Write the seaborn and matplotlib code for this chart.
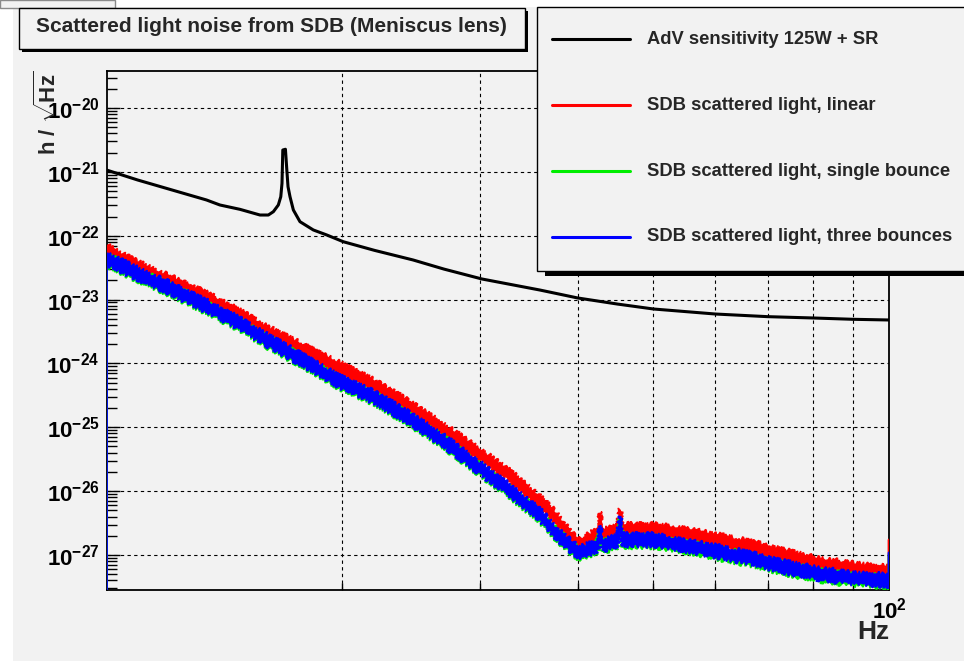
import numpy as np
import pandas as pd
import matplotlib
matplotlib.use("Agg")
import matplotlib.pyplot as plt
import seaborn as sns
from matplotlib.patches import Rectangle
from matplotlib.lines import Line2D
from matplotlib.ticker import FixedLocator, FuncFormatter, NullFormatter, LogLocator

# ---------------------------------------------------------------- data
# AdV design sensitivity, 125 W input power with signal recycling
adv_freq = [10.0, 10.96, 12.13, 13.42, 13.96, 14.81, 15.71, 16.10, 16.34, 16.58,
            16.70, 16.76, 16.80, 16.93, 17.00, 17.06, 17.16, 17.33, 17.67, 18.38,
            19.11, 20.07, 22.0, 24.65, 27.0, 30.19, 35.81, 40.0, 45.0, 50.0,
            60.0, 70.0, 80.0, 90.0, 100.0]
adv_h = [1.07e-21, 7.46e-22, 5.2e-22, 3.63e-22, 3.03e-22, 2.59e-22, 2.11e-22, 2.11e-22, 2.38e-22, 3.03e-22,
         4.08e-22, 6.62e-22, 2.20e-21, 2.26e-21, 1.07e-21, 5.86e-22, 4.08e-22, 2.53e-22, 1.66e-22, 1.23e-22,
         1.03e-22, 8.06e-23, 5.9e-23, 4.17e-23, 3.0e-23, 2.10e-23, 1.41e-23, 1.06e-23, 8.5e-24, 7.12e-24,
         5.94e-24, 5.40e-24, 5.15e-24, 4.91e-24, 4.79e-24]

# SDB scattered-light projections (first bin empty, last bin spikes)
sdb_freq = [10.0, 10.0, 10.82, 11.94, 13.16, 14.52, 16.02, 17.67, 19.88, 21.93,
            24.19, 26.69, 29.43, 32.47, 35.81, 37.61, 39.50, 40.29, 41.89, 42.4,
            42.72, 43.1, 44.0, 45.0, 45.32, 45.7, 47.12, 50.0, 54.6, 60.24,
            66.43, 73.27, 80.84, 89.18, 98.33, 100.0, 100.0]
sdb_linear = [1e-30, 5.97e-23, 3.48e-23, 2.03e-23, 1.18e-23, 6.46e-24, 3.14e-24, 1.73e-24, 8.49e-25, 4.6e-25,
              2.23e-25, 1.02e-25, 4.41e-26, 1.90e-26, 6.84e-27, 3.76e-27, 1.72e-27, 1.43e-27, 1.94e-27, 2.06e-27,
              3.80e-27, 2.1e-27, 2.21e-27, 2.4e-27, 4.39e-27, 2.5e-27, 2.47e-27, 2.47e-27, 2.19e-27, 1.72e-27,
              1.35e-27, 1.0e-27, 7.41e-28, 6.19e-28, 5.48e-28, 5.4e-28, 1.72e-27]
sdb_single = [1e-30, 4.2e-23, 2.59e-23, 1.51e-23, 8.4e-24, 4.55e-24, 2.21e-24, 1.14e-24, 4.9e-25, 2.85e-25,
              1.4e-25, 6.4e-26, 2.6e-26, 1.05e-26, 4.0e-27, 2.08e-27, 1.2e-27, 1.02e-27, 1.27e-27, 1.36e-27,
              2.1e-27, 1.38e-27, 1.46e-27, 1.6e-27, 3.0e-27, 1.63e-27, 1.63e-27, 1.63e-27, 1.36e-27, 1.07e-27,
              8.4e-28, 6.2e-28, 4.9e-28, 4.1e-28, 3.85e-28, 3.8e-28, 1.0e-27]
sdb_three = [1e-30, 4.43e-23, 2.73e-23, 1.59e-23, 8.84e-24, 4.79e-24, 2.33e-24, 1.20e-24, 5.18e-25, 3.0e-25,
             1.47e-25, 6.73e-26, 2.73e-26, 1.11e-26, 4.24e-27, 2.19e-27, 1.27e-27, 1.08e-27, 1.34e-27, 1.43e-27,
             2.29e-27, 1.45e-27, 1.54e-27, 1.68e-27, 3.29e-27, 1.72e-27, 1.72e-27, 1.72e-27, 1.43e-27, 1.13e-27,
             8.89e-28, 6.56e-28, 5.18e-28, 4.32e-28, 4.06e-28, 4.0e-28, 1.08e-27]

labels = ["AdV sensitivity 125W + SR",
          "SDB scattered light, linear",
          "SDB scattered light, single bounce",
          "SDB scattered light, three bounces"]
colors = ["black", "#ff0000", "#00ee00", "#0000ff"]

title = "Scattered light noise from SDB (Meniscus lens)"
x_major = [100]
x_minor = [20, 30, 40, 50, 60, 70, 80, 90]
y_major = [1e-27, 1e-26, 1e-25, 1e-24, 1e-23, 1e-22, 1e-21, 1e-20]

# ---------------------------------------------------------------- style
sns.set_style("ticks")
plt.rcParams["font.family"] = ["Liberation Sans", "DejaVu Sans"]
plt.rcParams["font.weight"] = "bold"
plt.rcParams["mathtext.fontset"] = "custom"
plt.rcParams["mathtext.rm"] = "Liberation Sans:bold"
plt.rcParams["mathtext.it"] = "Liberation Sans:bold"
plt.rcParams["mathtext.bf"] = "Liberation Sans:bold"
plt.rcParams["mathtext.sf"] = "Liberation Sans:bold"

W, H = 964, 661
canvas = "#f2f2f2"


def fx(x):
    return x / W


def fy(y):
    return 1 - y / H


fig = plt.figure(figsize=(W / 100, H / 100), dpi=100)
fig.patch.set_facecolor("white")

# canvas background and the small tab in the corner
fig.add_artist(Rectangle((fx(13), 0), 1 - fx(13), fy(7), transform=fig.transFigure,
                         facecolor=canvas, edgecolor="none", zorder=-10))
fig.add_artist(Rectangle((0, fy(8)), fx(115), 1 - fy(8), transform=fig.transFigure,
                         facecolor=canvas, edgecolor="#8a8a8a", lw=1.0, zorder=-9))

ax = fig.add_axes([fx(106.5), fy(589.5), fx(889) - fx(106.5), fy(71) - fy(589.5)])
ax.set_facecolor(canvas)
ax.set_xscale("log")
ax.set_yscale("log")

# ---------------------------------------------------------------- curves
adv = pd.DataFrame({"f": adv_freq, "h": adv_h})
sns.lineplot(data=adv, x="f", y="h", ax=ax, color=colors[0], lw=2.2,
             estimator=None, sort=False, zorder=3)

spread = 1.25  # vertical half-thickness of the noisy traces
for vals, col in zip([sdb_linear, sdb_single, sdb_three], colors[1:]):
    df = pd.DataFrame({"f": sdb_freq, "h": vals})
    inner = df.iloc[1:-1]
    fx_poly = np.concatenate([inner["f"].values, inner["f"].values[::-1]])
    fy_poly = np.concatenate([(inner["h"] / spread).values, (inner["h"] * spread).values[::-1]])
    band = ax.fill(fx_poly, fy_poly, color=col, lw=1.0, zorder=3)[0]
    band.set_sketch_params(scale=2.0, length=3.0, randomness=6.0)
    sns.lineplot(data=df, x="f", y="h", ax=ax, color=col, lw=2.0,
                 estimator=None, sort=False, zorder=3)

ax.set_xlim(10, 100)
ax.set_ylim(2.88e-28, 3.8e-20)
ax.set_xlabel("")
ax.set_ylabel("")

# ---------------------------------------------------------------- axes
for s in ax.spines.values():
    s.set_visible(True)
    s.set_color("black")
    s.set_linewidth(1.3)
    s.set_zorder(2.5)

ax.yaxis.set_major_locator(FixedLocator(y_major))
ax.yaxis.set_minor_locator(LogLocator(base=10, subs=[2, 3, 4, 5, 6, 7, 8, 9], numticks=20))
ax.yaxis.set_major_formatter(FuncFormatter(lambda v, p: r"$10^{%d}$" % int(round(np.log10(v)))))
ax.yaxis.set_minor_formatter(NullFormatter())

ax.xaxis.set_major_locator(FixedLocator(x_major))
ax.xaxis.set_minor_locator(FixedLocator(x_minor))
ax.xaxis.set_major_formatter(FuncFormatter(lambda v, p: r"$10^{%d}$" % int(round(np.log10(v)))))
ax.xaxis.set_minor_formatter(NullFormatter())

ax.tick_params(axis="y", which="both", direction="in", left=True, right=False,
               labelsize=16, pad=5, colors="black")
ax.tick_params(axis="y", which="major", length=9, width=1.0)
ax.tick_params(axis="y", which="minor", length=7, width=1.0)
ax.tick_params(axis="x", which="both", direction="in", bottom=True, top=False,
               labelsize=16, pad=6, colors="black")
ax.tick_params(axis="x", which="major", length=0)
ax.tick_params(axis="x", which="minor", length=5, width=1.0)

grid_kw = dict(color="black", lw=0.8, linestyle=(0, (3, 3)))
ax.grid(False)
ax.grid(True, which="major", axis="y", **grid_kw)
ax.grid(True, which="minor", axis="x", **grid_kw)

# axis titles
fig.text(fx(48), fy(70), r"h / $\sqrt{Hz}$", rotation=90, ha="center", va="top",
         fontsize=16, fontweight="bold")
fig.text(fx(889), fy(620), "Hz", ha="right", va="top", fontsize=19, fontweight="bold")

# ---------------------------------------------------------------- title box
fig.add_artist(Rectangle((fx(22), fy(52)), fx(525) - fx(19), fy(8) - fy(49),
                         transform=fig.transFigure, facecolor="black", edgecolor="none", zorder=5))
fig.add_artist(Rectangle((fx(19), fy(49)), fx(525) - fx(19), fy(8) - fy(49),
                         transform=fig.transFigure, facecolor=canvas, edgecolor="black", lw=1.0, zorder=6))
fig.text(fx(271), fy(27), title, ha="center", va="center", fontsize=15,
         fontweight="bold", zorder=7)

# ---------------------------------------------------------------- legend box
fig.add_artist(Rectangle((fx(545), fy(276)), 1.05 - fx(545), fy(12) - fy(276),
                         transform=fig.transFigure, facecolor="black", edgecolor="none", zorder=5))
fig.add_artist(Rectangle((fx(537), fy(271)), 1.05 - fx(537), fy(7) - fy(271),
                         transform=fig.transFigure, facecolor=canvas, edgecolor="black", lw=1.0, zorder=6))
rows = [39, 105, 171, 237]
for lab, col, ry in zip(labels, colors, rows):
    fig.add_artist(Line2D([fx(552), fx(630)], [fy(ry), fy(ry)], transform=fig.transFigure,
                          color=col, lw=2.2, zorder=7))
    fig.text(fx(647), fy(ry), lab, ha="left", va="center", fontsize=13.2,
             fontweight="bold", zorder=7)

fig.savefig("out.png", dpi=100, facecolor=fig.get_facecolor())
